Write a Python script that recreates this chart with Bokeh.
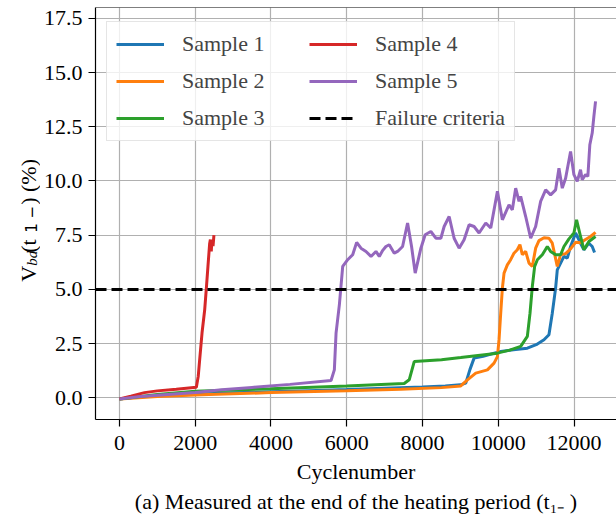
from math import pi
from bokeh.plotting import figure
from bokeh.layouts import row
from bokeh.models import (Range1d, Span, Legend, LegendItem, Label, Title,
                          NumeralTickFormatter, FixedTicker)
from bokeh.embed import file_html
from bokeh.resources import INLINE

# ---------------- data ----------------
x_ticks = [0, 2000, 4000, 6000, 8000, 10000, 12000]
y_ticks = [0.0, 2.5, 5.0, 7.5, 10.0, 12.5, 15.0, 17.5]
x_lo, x_hi = -632, 13119
y_lo, y_hi = -1.0, 18.0
failure_criteria = 5.0

s1_x = [0, 500, 1000, 2000, 3000, 4000, 5000, 6000, 7000, 8000, 8600, 9000, 9141,
        9250, 9360, 9600, 10063, 10400, 10766, 11000, 11205, 11336, 11424, 11512,
        11556, 11644, 11732, 11820, 11907, 12039, 12170, 12258, 12390, 12478, 12540]
s1_y = [-0.05, 0.04, 0.09, 0.17, 0.23, 0.28, 0.33, 0.38, 0.44, 0.5, 0.55, 0.6, 0.68,
        1.3, 1.83, 1.92, 2.14, 2.22, 2.29, 2.45, 2.68, 2.91, 3.9, 5.06,
        5.9, 6.21, 6.52, 6.44, 6.98, 7.6, 7.13, 6.83, 7.13, 6.98, 6.7]

s2_x = [0, 1000, 2160, 4000, 6000, 7427, 8500, 9009, 9185, 9404, 9712, 9887, 9976,
        10019, 10063, 10107, 10151, 10238, 10326, 10413, 10501, 10570, 10634, 10722,
        10810, 10897, 10985, 11073, 11205, 11336, 11424, 11556, 11644, 11776, 11907,
        12039, 12170, 12302, 12434, 12566]
s2_y = [-0.05, 0.06, 0.14, 0.24, 0.33, 0.40, 0.47, 0.55, 0.83, 1.14, 1.29, 1.6, 1.9,
        2.68, 3.9, 5.06, 5.75, 6.13, 6.37, 6.67, 6.83, 7.06, 6.6, 6.75,
        6.21, 6.06, 6.9, 7.25, 7.38, 7.36, 7.13, 6.06, 6.6, 6.65, 6.87,
        7.17, 7.15, 7.3, 7.44, 7.63]

s3_x = [0, 1000, 2000, 4000, 6000, 7516, 7648, 7780, 8500, 9009, 9976, 10300, 10590,
        10766, 10836, 10897, 10959, 11030, 11161, 11293, 11380, 11512, 11644, 11732,
        11864, 11995, 12065, 12170, 12258, 12390, 12566]
s3_y = [-0.05, 0.15, 0.3, 0.42, 0.55, 0.66, 0.83, 1.67, 1.76, 1.86, 2.06, 2.2, 2.37,
        2.83, 3.9, 5.13, 6.06, 6.37, 6.6, 6.98, 6.75, 6.6, 6.6, 6.98,
        7.33, 7.6, 8.21, 7.44, 6.83, 7.21, 7.44]

s4_x = [0, 300, 660, 1000, 1500, 2030, 2080, 2117, 2180, 2250, 2300, 2336, 2380,
        2400, 2424, 2440, 2470, 2494]
s4_y = [-0.05, 0.08, 0.24, 0.32, 0.40, 0.49, 1.0, 1.75, 3.0, 4.06, 5.2, 6.06, 7.1,
        7.3, 6.75, 7.3, 7.0, 7.5]

s5_x = [0, 500, 1000, 2000, 2700, 3500, 4500, 5585, 5672, 5717, 5805, 5893, 6024,
        6156, 6261, 6375, 6507, 6639, 6770, 6858, 6950, 7033, 7121, 7253, 7341, 7473,
        7605, 7710, 7806, 7956, 8069, 8219, 8351, 8483, 8570, 8702, 8833, 8965, 9097,
        9229, 9360, 9492, 9668, 9800, 9976, 10107, 10282, 10370, 10458, 10546, 10590,
        10722, 10854, 10985, 11117, 11249, 11380, 11512, 11600, 11688, 11776, 11907,
        11995, 12083, 12170, 12214, 12302, 12363, 12415, 12478, 12522, 12566]
s5_y = [-0.05, 0.05, 0.12, 0.25, 0.37, 0.48, 0.62, 0.80, 1.29, 2.98, 4.3, 6.06, 6.37,
        6.6, 7.17, 6.9, 6.75, 6.52, 6.75, 6.52, 6.8, 6.98, 7.06, 6.67, 6.75, 6.98,
        8.06, 6.98, 5.75, 6.9, 7.52, 7.67, 7.36, 7.36, 7.9, 8.36, 7.36, 6.9, 7.29,
        7.98, 7.9, 7.6, 8.06, 7.83, 9.52, 8.21, 8.9, 8.67, 9.67, 9.06, 9.29,
        8.36, 7.36, 7.9, 9.06, 9.59, 9.36, 9.59, 10.59, 9.67, 10.13, 11.36,
        10.29, 9.98, 10.52, 10.06, 10.29, 10.21, 11.67, 12.21, 12.98, 13.67]

names = ["Sample 1", "Sample 2", "Sample 3", "Sample 4", "Sample 5"]
colors = ["#1f77b4", "#ff7f0e", "#2ca02c", "#d62728", "#9467bd"]
series = [(s1_x, s1_y), (s2_x, s2_y), (s3_x, s3_y), (s4_x, s4_y), (s5_x, s5_y)]

SERIF = "Liberation Serif"
FS = "22px"
STRIP_W = 40

# ---------------- main plot ----------------
p = figure(width=616 - STRIP_W, height=515, output_backend="svg", toolbar_location=None,
           x_range=Range1d(x_lo, x_hi), y_range=Range1d(y_lo, y_hi),
           min_border_left=94 - STRIP_W, min_border_right=0, min_border_top=7,
           min_border_bottom=96)
p.outline_line_color = None
p.background_fill_color = "white"
p.border_fill_color = "white"

renderers = []
for (xs, ys), c in zip(series, colors):
    r = p.line(xs, ys, line_color=c, line_width=3)
    renderers.append(r)

fail_r = p.line([x_lo, x_hi], [failure_criteria, failure_criteria],
                line_color="black", line_width=3, line_dash="11 5")

top_spine = Span(location=y_hi, dimension="width", line_color="black", line_width=1.2)
p.add_layout(top_spine)

p.axis.major_tick_in = 0
p.axis.major_tick_out = 7
p.axis.minor_tick_in = 0
p.axis.minor_tick_out = 0
p.axis.axis_line_color = "black"
p.axis.axis_line_width = 1.2
p.axis.major_tick_line_width = 1.2
p.axis.major_label_text_font = SERIF
p.axis.major_label_text_font_size = FS
p.axis.major_label_text_color = "black"
p.axis.axis_label_text_font = SERIF
p.axis.axis_label_text_font_size = FS
p.axis.axis_label_text_font_style = "normal"
p.axis.axis_label_text_color = "black"
p.yaxis.major_label_standoff = 6
p.xaxis.major_label_standoff = 9

p.xaxis.ticker = FixedTicker(ticks=x_ticks)
p.yaxis.ticker = FixedTicker(ticks=y_ticks)
p.yaxis.formatter = NumeralTickFormatter(format="0.0")
p.xaxis.axis_label = "Cyclenumber"
p.xaxis.axis_label_standoff = 6
p.xaxis.axis_label_text_line_height = 1.0

p.xgrid.ticker = FixedTicker(ticks=x_ticks)
p.ygrid.ticker = FixedTicker(ticks=y_ticks)
p.grid.grid_line_color = "#b0b0b0"
p.grid.grid_line_width = 1.2

cap = Title(text="(a) Measured at the end of the heating period (t\u2081\u208b )",
            align="center", text_font=SERIF, text_font_size=FS, standoff=0,
            text_font_style="normal", text_color="black")
p.add_layout(cap, "below")

items = [LegendItem(label=n, renderers=[r]) for n, r in zip(names, renderers)]
items.append(LegendItem(label="Failure criteria", renderers=[fail_r]))
legend = Legend(items=items, location=(11, 278), nrows=3, orientation="vertical",
                label_text_font=SERIF, label_text_font_size=FS,
                glyph_width=48, glyph_height=22, label_standoff=18,
                label_height=22, label_width=116, spacing=11, padding=9, margin=0,
                border_line_color="#cccccc", border_line_width=1,
                background_fill_alpha=0.8)
p.add_layout(legend)

# ---------------- y-axis label strip (rotated text pieces) ----------------
# shares the main y range so the label is placed along the same vertical scale
lab = figure(width=STRIP_W, height=515, output_backend="svg", toolbar_location=None,
             x_axis_type=None, y_axis_type=None, min_border=0,
             x_range=Range1d(0, 1), y_range=p.y_range)
lab.outline_line_color = None
lab.grid.visible = False
lab.background_fill_color = "white"
lab.border_fill_color = "white"

PX_PER_UNIT = 412 / (y_hi - y_lo)
start = 5.35
bx = 28
pieces = [
    ("V", 0, 0, SERIF, "22px", "normal"),
    ("bd", 16, 3, SERIF, "15px", "italic"),
    (" (t", 29, 0, SERIF, "22px", "normal"),
    ("1 \u2212", 49, 3, "DejaVu Sans", "15px", "normal"),
    (" ) (%)", 77, 0, SERIF, "22px", "normal"),
]
for txt, off, dx, font, size, style in pieces:
    lab.add_layout(Label(x=bx + dx, y=start + off / PX_PER_UNIT,
                         x_units="screen", y_units="data",
                         text=txt, angle=pi / 2, text_align="left",
                         text_baseline="alphabetic", text_font=font,
                         text_font_size=size, text_font_style=style,
                         text_color="black"))

layout = row(lab, p, spacing=0)
open("out.html", "w").write(file_html(layout, INLINE))
